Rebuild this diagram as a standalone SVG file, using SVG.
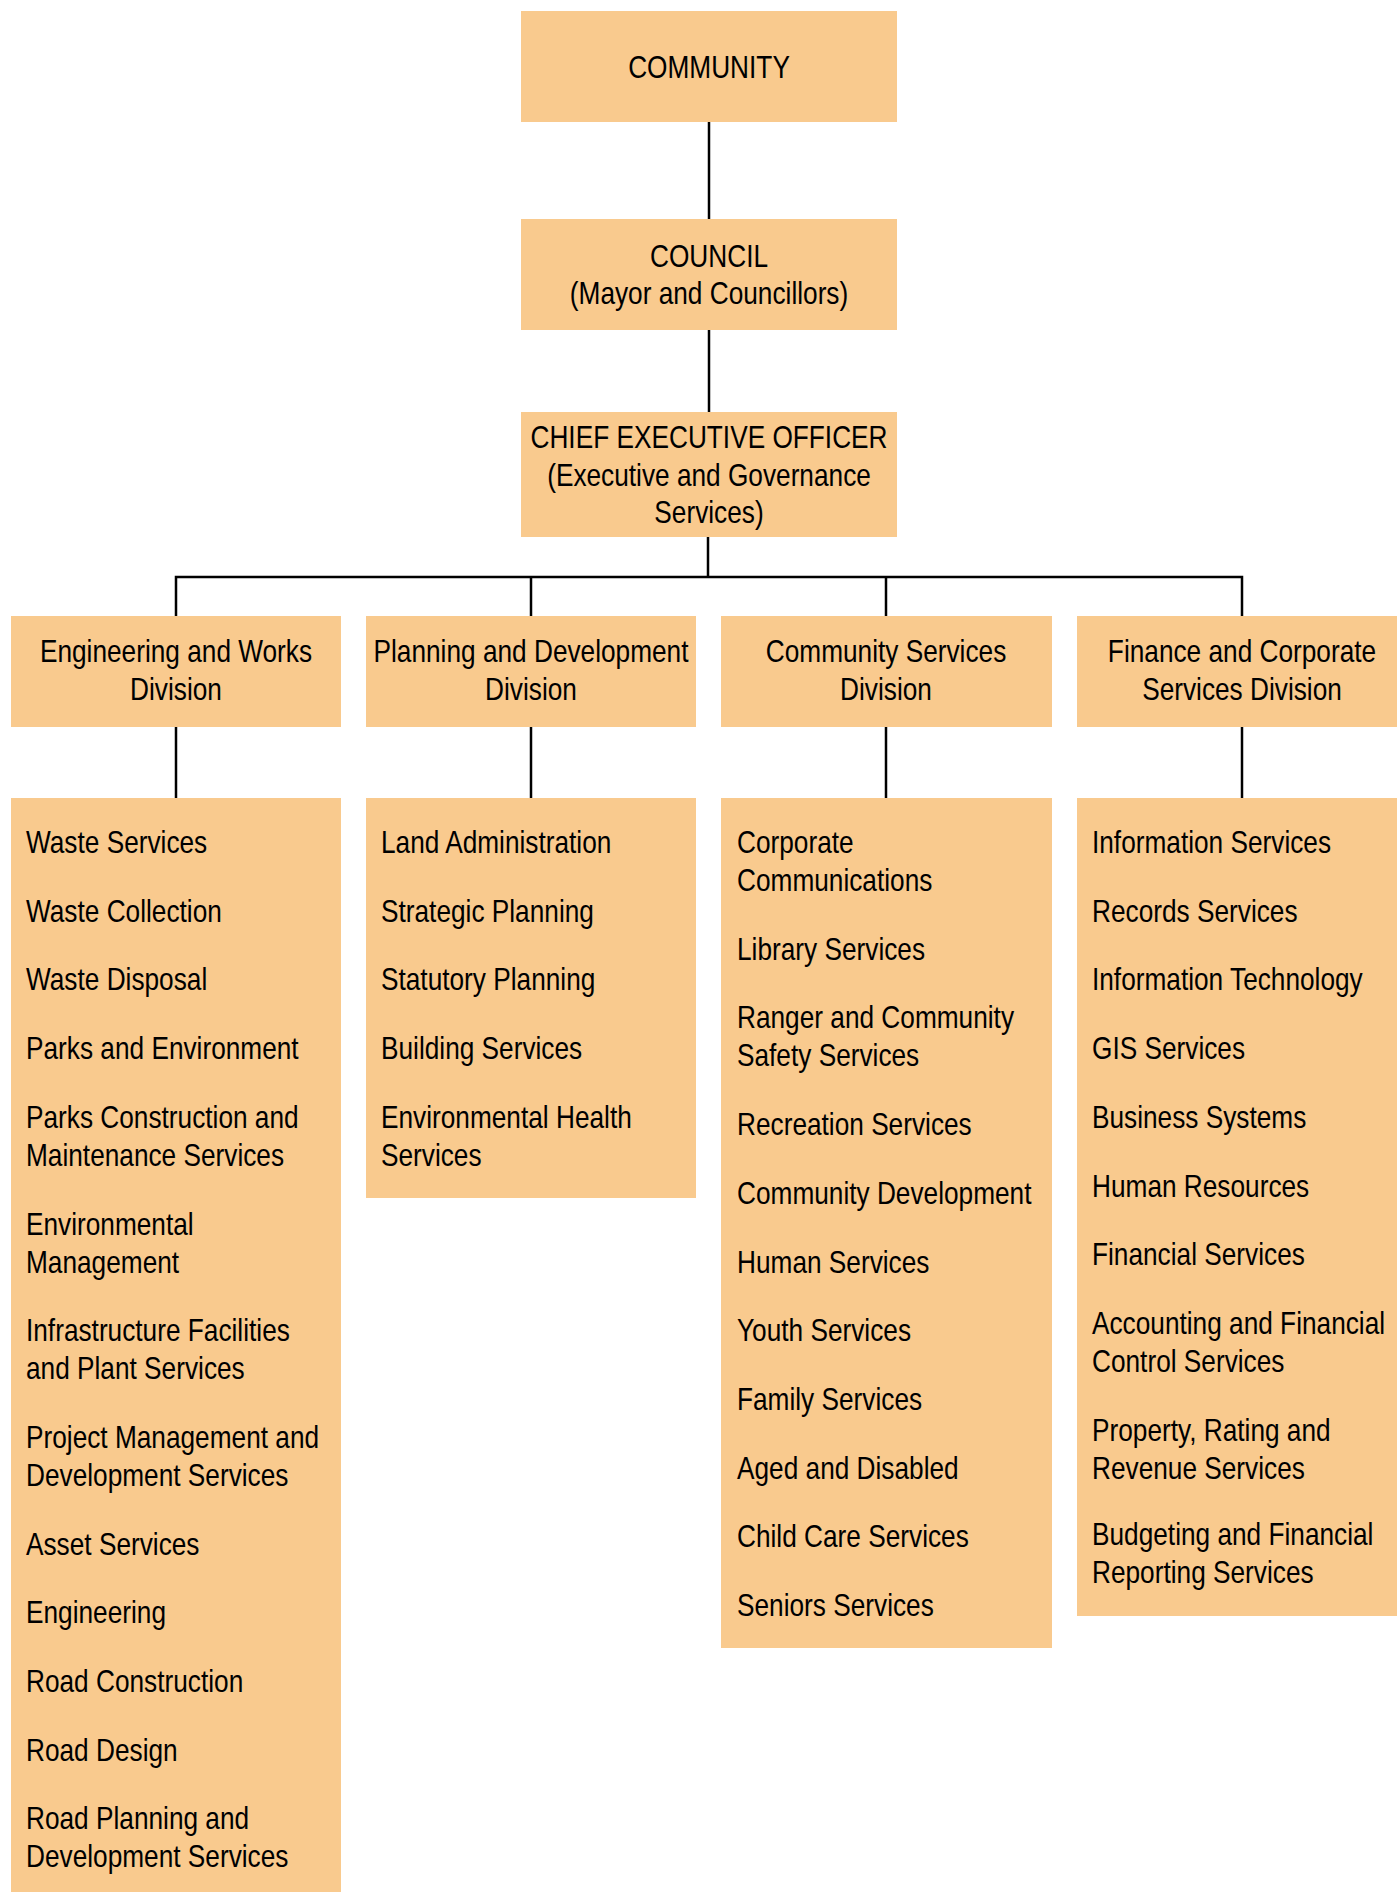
<svg xmlns="http://www.w3.org/2000/svg" width="1397" height="1892" viewBox="0 0 1397 1892">
  <style>
    .box { fill: #F9CA8E; }
    .wire { stroke: #000; stroke-width: 2.5; fill: none; }
    text { font-family: "Liberation Sans", Arial, sans-serif; font-size: 32px; fill: #000; }
    .c { text-anchor: middle; }
  </style>
  <rect width="1397" height="1892" fill="#fff"/>

  <!-- connectors -->
  <g id="connectors" class="wire">
    <line x1="709" y1="122" x2="709" y2="219"/>
    <line x1="709" y1="330" x2="709" y2="412"/>
    <line x1="708" y1="537" x2="708" y2="577"/>
    <polyline points="176,616 176,577 1242,577 1242,616"/>
    <line x1="531" y1="577" x2="531" y2="616"/>
    <line x1="886" y1="577" x2="886" y2="616"/>
    <line x1="176" y1="727" x2="176" y2="798"/>
    <line x1="531" y1="727" x2="531" y2="798"/>
    <line x1="886" y1="727" x2="886" y2="798"/>
    <line x1="1242" y1="727" x2="1242" y2="798"/>
  </g>

  <!-- top of the chart (text is condensed horizontally to 82%) -->
  <g id="community">
    <rect class="box" x="521" y="11" width="376" height="111"/>
    <text class="c" transform="matrix(0.82 0 0 1 709 78)">COMMUNITY</text>
  </g>
  <g id="council">
    <rect class="box" x="521" y="219" width="376" height="111"/>
    <text class="c" transform="matrix(0.82 0 0 1 709 267)">COUNCIL</text>
    <text class="c" transform="matrix(0.82 0 0 1 709 304)">(Mayor and Councillors)</text>
  </g>
  <g id="ceo">
    <rect class="box" x="521" y="412" width="376" height="125"/>
    <text class="c" transform="matrix(0.82 0 0 1 709 448)">CHIEF EXECUTIVE OFFICER</text>
    <text class="c" transform="matrix(0.82 0 0 1 709 486)">(Executive and Governance</text>
    <text class="c" transform="matrix(0.82 0 0 1 709 523)">Services)</text>
  </g>

  <!-- divisions -->
  <g id="div-engineering">
    <rect class="box" x="11" y="616" width="330" height="111"/>
    <text class="c" transform="matrix(0.82 0 0 1 176 662)">Engineering and Works</text>
    <text class="c" transform="matrix(0.82 0 0 1 176 700)">Division</text>
  </g>
  <g id="div-planning">
    <rect class="box" x="366" y="616" width="330" height="111"/>
    <text class="c" transform="matrix(0.82 0 0 1 531 662)">Planning and Development</text>
    <text class="c" transform="matrix(0.82 0 0 1 531 700)">Division</text>
  </g>
  <g id="div-community">
    <rect class="box" x="721" y="616" width="331" height="111"/>
    <text class="c" transform="matrix(0.82 0 0 1 886 662)">Community Services</text>
    <text class="c" transform="matrix(0.82 0 0 1 886 700)">Division</text>
  </g>
  <g id="div-finance">
    <rect class="box" x="1077" y="616" width="330" height="111"/>
    <text class="c" transform="matrix(0.82 0 0 1 1242 662)">Finance and Corporate</text>
    <text class="c" transform="matrix(0.82 0 0 1 1242 700)">Services Division</text>
  </g>

  <!-- service lists -->
  <g id="list-engineering">
    <rect class="box" x="11" y="798" width="330" height="1100"/>
    <text transform="matrix(0.82 0 0 1 26 853)">Waste Services</text>
    <text transform="matrix(0.82 0 0 1 26 921.7)">Waste Collection</text>
    <text transform="matrix(0.82 0 0 1 26 990.4)">Waste Disposal</text>
    <text transform="matrix(0.82 0 0 1 26 1059.1)">Parks and Environment</text>
    <text transform="matrix(0.82 0 0 1 26 1127.8)">Parks Construction and</text>
    <text transform="matrix(0.82 0 0 1 26 1165.8)">Maintenance Services</text>
    <text transform="matrix(0.82 0 0 1 26 1234.5)">Environmental</text>
    <text transform="matrix(0.82 0 0 1 26 1272.5)">Management</text>
    <text transform="matrix(0.82 0 0 1 26 1341.2)">Infrastructure Facilities</text>
    <text transform="matrix(0.82 0 0 1 26 1379.2)">and Plant Services</text>
    <text transform="matrix(0.82 0 0 1 26 1447.9)">Project Management and</text>
    <text transform="matrix(0.82 0 0 1 26 1485.9)">Development Services</text>
    <text transform="matrix(0.82 0 0 1 26 1554.6)">Asset Services</text>
    <text transform="matrix(0.82 0 0 1 26 1623.3)">Engineering</text>
    <text transform="matrix(0.82 0 0 1 26 1692)">Road Construction</text>
    <text transform="matrix(0.82 0 0 1 26 1760.7)">Road Design</text>
    <text transform="matrix(0.82 0 0 1 26 1829.4)">Road Planning and</text>
    <text transform="matrix(0.82 0 0 1 26 1867.4)">Development Services</text>
  </g>
  <g id="list-planning">
    <rect class="box" x="366" y="798" width="330" height="400"/>
    <text transform="matrix(0.82 0 0 1 381 853)">Land Administration</text>
    <text transform="matrix(0.82 0 0 1 381 921.7)">Strategic Planning</text>
    <text transform="matrix(0.82 0 0 1 381 990.4)">Statutory Planning</text>
    <text transform="matrix(0.82 0 0 1 381 1059.1)">Building Services</text>
    <text transform="matrix(0.82 0 0 1 381 1127.8)">Environmental Health</text>
    <text transform="matrix(0.82 0 0 1 381 1165.8)">Services</text>
  </g>
  <g id="list-community">
    <rect class="box" x="721" y="798" width="331" height="850"/>
    <text transform="matrix(0.82 0 0 1 737 853)">Corporate</text>
    <text transform="matrix(0.82 0 0 1 737 891)">Communications</text>
    <text transform="matrix(0.82 0 0 1 737 959.7)">Library Services</text>
    <text transform="matrix(0.82 0 0 1 737 1028.4)">Ranger and Community</text>
    <text transform="matrix(0.82 0 0 1 737 1066.4)">Safety Services</text>
    <text transform="matrix(0.82 0 0 1 737 1135.1)">Recreation Services</text>
    <text transform="matrix(0.82 0 0 1 737 1203.8)">Community Development</text>
    <text transform="matrix(0.82 0 0 1 737 1272.5)">Human Services</text>
    <text transform="matrix(0.82 0 0 1 737 1341.2)">Youth Services</text>
    <text transform="matrix(0.82 0 0 1 737 1409.9)">Family Services</text>
    <text transform="matrix(0.82 0 0 1 737 1478.6)">Aged and Disabled</text>
    <text transform="matrix(0.82 0 0 1 737 1547.3)">Child Care Services</text>
    <text transform="matrix(0.82 0 0 1 737 1616)">Seniors Services</text>
  </g>
  <g id="list-finance">
    <rect class="box" x="1077" y="798" width="330" height="818"/>
    <text transform="matrix(0.82 0 0 1 1092 853)">Information Services</text>
    <text transform="matrix(0.82 0 0 1 1092 921.7)">Records Services</text>
    <text transform="matrix(0.82 0 0 1 1092 990.4)">Information Technology</text>
    <text transform="matrix(0.82 0 0 1 1092 1059.1)">GIS Services</text>
    <text transform="matrix(0.82 0 0 1 1092 1127.8)">Business Systems</text>
    <text transform="matrix(0.82 0 0 1 1092 1196.5)">Human Resources</text>
    <text transform="matrix(0.82 0 0 1 1092 1265.2)">Financial Services</text>
    <text transform="matrix(0.82 0 0 1 1092 1333.9)">Accounting and Financial</text>
    <text transform="matrix(0.82 0 0 1 1092 1371.9)">Control Services</text>
    <text transform="matrix(0.82 0 0 1 1092 1440.6)">Property, Rating and</text>
    <text transform="matrix(0.82 0 0 1 1092 1478.6)">Revenue Services</text>
    <text transform="matrix(0.82 0 0 1 1092 1545)">Budgeting and Financial</text>
    <text transform="matrix(0.82 0 0 1 1092 1583)">Reporting Services</text>
  </g>
</svg>
